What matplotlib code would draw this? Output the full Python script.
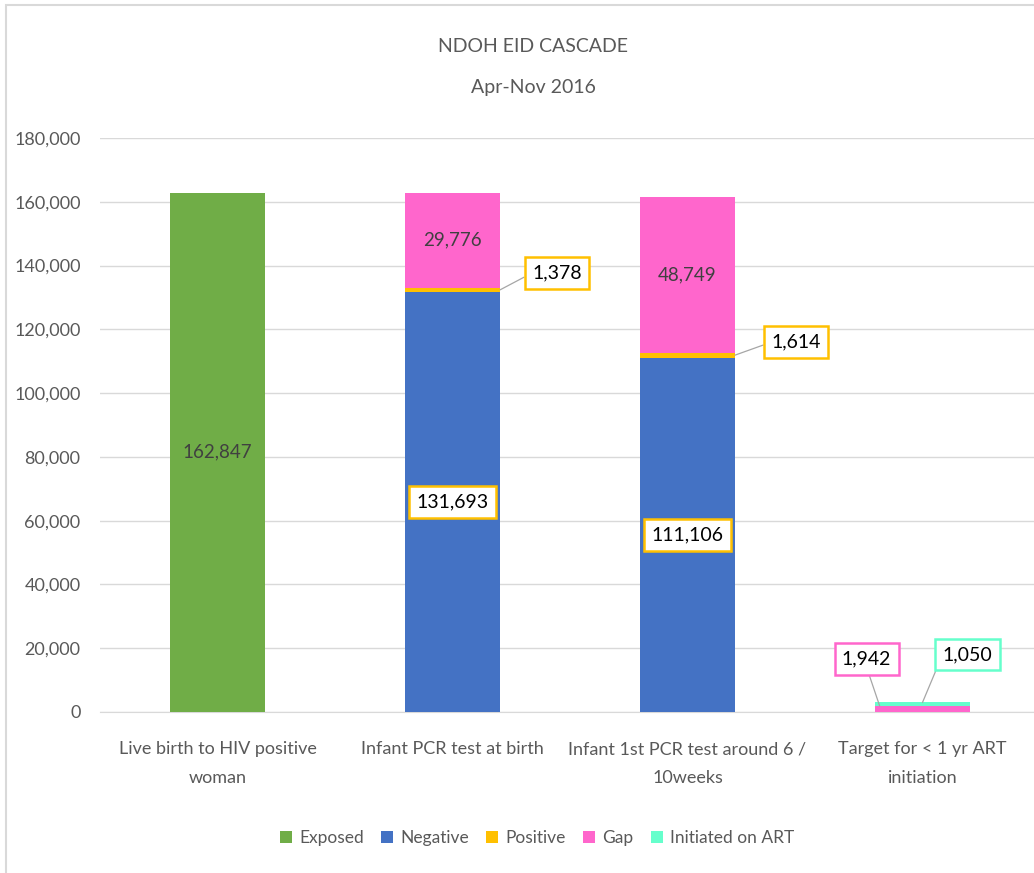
import matplotlib
matplotlib.use("Agg")
import matplotlib.pyplot as plt
from matplotlib.patches import Rectangle, Patch
import numpy as np

plt.rcParams['font.family'] = ['Lato', 'DejaVu Sans']

categories = ["Live birth to HIV positive\nwoman", "Infant PCR test at birth",
              "Infant 1st PCR test around 6 /\n10weeks", "Target for < 1 yr ART\ninitiation"]
exposed = [162847, 0, 0, 0]
negative = [0, 131693, 111106, 0]
positive = [0, 1378, 1614, 0]
gap = [0, 29776, 48749, 1942]
initiated = [0, 0, 0, 1050]
series_names = ["Exposed", "Negative", "Positive", "Gap", "Initiated on ART"]
colors = ["#70AD47", "#4472C4", "#FFC000", "#FF66CC", "#66FFCC"]
yticks = list(range(0, 180001, 20000))

W, H, DPI = 1034, 873, 100
fig = plt.figure(figsize=(W / DPI, H / DPI), dpi=DPI)
fig.patch.set_facecolor("white")

# outer chart border (cropped on right/bottom)
fig.add_artist(Rectangle((6 / W, -0.05), 1.1, 1 - 5 / H + 0.05, transform=fig.transFigure,
                         fill=False, edgecolor="#D9D9D9", linewidth=1.5))

ax = fig.add_axes([100 / W, (H - 712) / H, 940 / W, 574 / H])
x = np.arange(len(categories))
bw = 0.405
data = [exposed, negative, positive, gap, initiated]
bottom = np.zeros(len(categories))
for vals, c, n in zip(data, colors, series_names):
    ax.bar(x, vals, bw, bottom=bottom, color=c, label=n, zorder=3)
    bottom = bottom + np.array(vals)

ax.set_xlim(-0.5, len(categories) - 0.5)
ax.set_ylim(0, 180000)
ax.set_yticks(yticks)
ax.set_yticklabels([f"{v:,}" for v in yticks])
ax.yaxis.grid(True, color="#D9D9D9", linewidth=1, zorder=0)
ax.set_axisbelow(True)
for s in ["top", "right", "left"]:
    ax.spines[s].set_visible(False)
ax.spines["bottom"].set_color("#D9D9D9")
ax.tick_params(axis="both", length=0, colors="#595959", labelsize=13)
ax.tick_params(axis="y", pad=14)
ax.tick_params(axis="x", pad=21)
ax.set_xticks(x)
ax.set_xticklabels(categories, color="#595959", fontsize=13, linespacing=1.95)

fig.text(533 / W, 1 - 47 / H, "NDOH EID CASCADE", ha="center", va="center", fontsize=14, color="#595959")
fig.text(533 / W, 1 - 87 / H, "Apr-Nov 2016", ha="center", va="center", fontsize=14, color="#595959")

def plain(i, base, val):
    ax.text(x[i], base + val / 2, f"{val:,}", ha="center", va="center", fontsize=13.5, color="#404040", zorder=5)

plain(0, 0, exposed[0])
plain(1, negative[1] + positive[1], gap[1])
plain(2, negative[2] + positive[2], gap[2])

BOX = "square,pad=0.38"

def boxed(i, yv, val, ec):
    ax.text(x[i], yv, f"{val:,}", ha="center", va="center", fontsize=14, color="black", zorder=6,
            bbox=dict(boxstyle=BOX, facecolor="white", edgecolor=ec, linewidth=1.8))

boxed(1, negative[1] / 2, negative[1], colors[2])
boxed(2, negative[2] / 2, negative[2], colors[2])

def callout(xy, off, val, ec, relpos):
    ax.annotate(f"{val:,}", xy=xy, xytext=off, textcoords="offset pixels", ha="center", va="center",
                fontsize=14, color="black", zorder=6,
                bbox=dict(boxstyle=BOX, facecolor="white", edgecolor=ec, linewidth=1.8),
                arrowprops=dict(arrowstyle="-", color="#A6A6A6", linewidth=0.9, relpos=relpos,
                                shrinkA=0, shrinkB=0))

callout((x[1] + bw / 2, negative[1] + positive[1] / 2), (57, 17), positive[1], colors[2], (0, 0.5))
callout((x[2] + bw / 2, negative[2] + positive[2] / 2), (61, 13), positive[2], colors[2], (0, 0.5))
callout((x[3] - bw / 2 + 0.02, gap[3]), (-13, 47), gap[3], colors[3], (0.5, 0))
callout((x[3], gap[3] + initiated[3]), (45, 48), initiated[3], colors[4], (0, 0.5))

handles = [Patch(facecolor=c, edgecolor="none", label=n) for c, n in zip(colors, series_names)]
fig.legend(handles=handles, loc="center", bbox_to_anchor=(537 / W, 1 - 838 / H), ncol=5, frameon=False,
           fontsize=12.5, handlelength=0.7, handleheight=0.7, handletextpad=0.4, columnspacing=1.0,
           labelcolor="#595959")

fig.savefig("out.png", dpi=DPI, facecolor="white")
